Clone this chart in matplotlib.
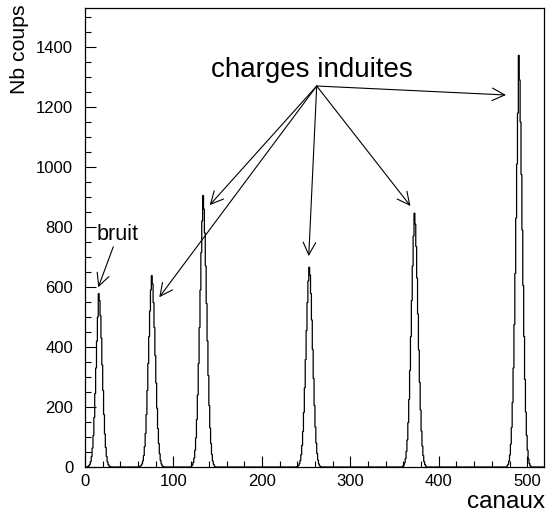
import matplotlib
matplotlib.use("Agg")
import matplotlib.pyplot as plt
import numpy as np
from matplotlib.ticker import MultipleLocator


plt.rcParams["font.family"] = ["Liberation Sans", "DejaVu Sans"]

N_CHANNELS = 520

# first channel of each peak, then counts per channel
peak_starts = [3, 62, 120, 240, 359, 477]

peak_bruit = [2, 4, 9, 18, 35, 63, 105, 165, 245, 330, 420, 500, 578,
              555, 505, 430, 340, 255, 175, 110, 65, 35, 17, 8, 3, 1]
peak_2 = [2, 5, 10, 20, 38, 68, 112, 175, 255, 345, 435, 520, 590, 638,
          610, 548, 465, 372, 280, 196, 128, 78, 44, 22, 10, 4, 1]
peak_3 = [3, 7, 15, 30, 56, 97, 158, 240, 345, 465, 590, 715, 820, 905,
          860, 780, 670, 545, 420, 305, 205, 130, 78, 42, 20, 9, 3]
peak_4 = [2, 5, 11, 22, 41, 72, 118, 182, 264, 358, 455, 548, 620, 666,
          640, 578, 490, 392, 295, 205, 133, 80, 45, 23, 10, 4, 1]
peak_5 = [3, 6, 14, 28, 52, 90, 148, 225, 322, 435, 555, 670, 770, 846,
          810, 735, 630, 510, 390, 282, 190, 120, 70, 38, 18, 8, 3]
peak_6 = [4, 9, 20, 40, 76, 132, 215, 330, 475, 645, 830, 1010, 1180, 1372,
          1290, 1150, 975, 790, 605, 435, 292, 183, 105, 56, 27, 12, 5]

peaks = [peak_bruit, peak_2, peak_3, peak_4, peak_5, peak_6]

# arrow tips (channel, counts) and common origin
arrow_origin = (262, 1270)
arrow_tips = [(141, 873), (84, 566), (253, 703), (368, 870), (476, 1240)]
bruit_start = (32, 734)
bruit_tip = (15, 599)


def build_counts() -> np.ndarray:
    counts = np.zeros(N_CHANNELS)
    for start, values in zip(peak_starts, peaks):
        counts[start:start + len(values)] = values
    return counts


def main() -> None:
    counts = build_counts()
    edges = np.arange(N_CHANNELS + 1)

    fig = plt.figure(figsize=(5.46, 5.12), dpi=100)
    ax = fig.add_axes([85 / 546, 1 - 467 / 512, 459 / 546, 459 / 512])

    ax.stairs(counts, edges, color="black", lw=0.9)

    ax.set_xlim(0, 519)
    ax.set_ylim(0, 1530)

    ax.xaxis.set_major_locator(MultipleLocator(100))
    ax.xaxis.set_minor_locator(MultipleLocator(20))
    ax.yaxis.set_major_locator(MultipleLocator(200))
    ax.yaxis.set_minor_locator(MultipleLocator(50))

    ax.tick_params(axis="both", which="both", direction="in",
                   top=False, right=False, labelsize=12, width=0.8)
    ax.tick_params(axis="both", which="major", length=8)
    ax.tick_params(axis="both", which="minor", length=4)
    ax.tick_params(axis="y", pad=8.5)
    ax.tick_params(axis="x", pad=5)

    for spine in ax.spines.values():
        spine.set_linewidth(0.9)

    arrow = dict(arrowstyle="->,head_length=0.6,head_width=0.3",
                 color="black", lw=0.8, mutation_scale=15,
                 shrinkA=0, shrinkB=0)

    for tip in arrow_tips:
        ax.annotate("", xy=tip, xytext=arrow_origin, arrowprops=arrow)

    ax.annotate("", xy=bruit_tip, xytext=bruit_start, arrowprops=arrow)

    ax.text(257, 1300, "charges induites", fontsize=20,
            ha="center", va="baseline")
    ax.text(13.6, 757, "bruit", fontsize=15.5, ha="left", va="baseline")

    fig.text(20 / 546, 0.992, "Nb coups", fontsize=15.3,
             rotation=90, ha="center", va="top")
    fig.text(0.998, 1 - 508 / 512, "canaux", fontsize=17.5,
             ha="right", va="baseline")

    fig.savefig("out.png", dpi=100)
    plt.close(fig)


if __name__ == "__main__":
    main()
